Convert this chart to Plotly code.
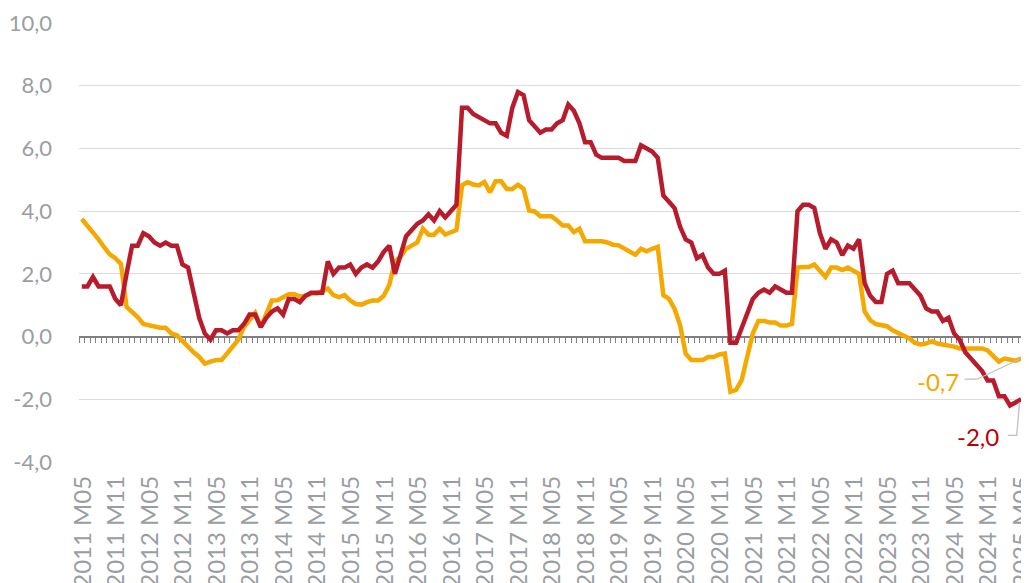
import plotly.graph_objects as go

# ---- data -------------------------------------------------------------
n_months = 169
months = []
yy, mm = 2011, 5
for _ in range(n_months):
    months.append(f"{yy} M{mm:02d}")
    mm += 1
    if mm > 12:
        mm = 1
        yy += 1

red = [
    1.6, 1.6, 1.9, 1.6, 1.6, 1.6, 1.2, 1.0, 2.0, 2.9,
    2.9, 3.3, 3.2, 3.0, 2.9, 3.0, 2.9, 2.9, 2.3, 2.2,
    1.4, 0.6, 0.1, -0.1, 0.2, 0.2, 0.1, 0.2, 0.2, 0.4,
    0.7, 0.7, 0.3, 0.6, 0.8, 0.9, 0.7, 1.2, 1.2, 1.1,
    1.3, 1.4, 1.4, 1.4, 2.4, 2.0, 2.2, 2.2, 2.3, 2.0,
    2.2, 2.3, 2.2, 2.4, 2.7, 2.9, 2.0, 2.6, 3.2, 3.4,
    3.6, 3.7, 3.9, 3.7, 4.0, 3.8, 4.0, 4.2, 7.3, 7.3,
    7.1, 7.0, 6.9, 6.8, 6.8, 6.5, 6.4, 7.3, 7.8, 7.7,
    6.9, 6.7, 6.5, 6.6, 6.6, 6.8, 6.9, 7.4, 7.2, 6.8,
    6.2, 6.2, 5.8, 5.7, 5.7, 5.7, 5.7, 5.6, 5.6, 5.6,
    6.1, 6.0, 5.9, 5.7, 4.5, 4.3, 4.1, 3.5, 3.1, 3.0,
    2.5, 2.6, 2.2, 2.0, 2.0, 2.1, -0.2, -0.2, 0.3, 0.8,
    1.2, 1.4, 1.5, 1.4, 1.6, 1.5, 1.4, 1.4, 4.0, 4.2,
    4.2, 4.1, 3.3, 2.8, 3.1, 3.0, 2.6, 2.9, 2.8, 3.1,
    1.7, 1.3, 1.1, 1.1, 2.0, 2.1, 1.7, 1.7, 1.7, 1.5,
    1.3, 0.9, 0.8, 0.8, 0.5, 0.6, 0.1, -0.1, -0.5, -0.7,
    -0.9, -1.1, -1.4, -1.4, -1.9, -1.9, -2.2, -2.1, -2.0,
]

orange = [
    3.75, 3.55, 3.35, 3.1, 2.85, 2.62, 2.5, 2.32, 0.95, 0.78,
    0.62, 0.4, 0.36, 0.3, 0.28, 0.28, 0.1, 0.04, -0.15, -0.3,
    -0.5, -0.65, -0.86, -0.8, -0.75, -0.75, -0.55, -0.35, -0.1, 0.3,
    0.5, 0.75, 0.3, 0.7, 1.15, 1.16, 1.25, 1.35, 1.35, 1.28,
    1.3, 1.37, 1.37, 1.45, 1.53, 1.32, 1.26, 1.32, 1.15, 1.04,
    1.02, 1.1, 1.15, 1.15, 1.3, 1.65, 2.4, 2.54, 2.8, 2.9,
    3.0, 3.44, 3.25, 3.25, 3.44, 3.25, 3.33, 3.4, 4.82, 4.93,
    4.85, 4.82, 4.93, 4.6, 4.95, 4.95, 4.71, 4.71, 4.84, 4.71,
    4.02, 3.99, 3.84, 3.84, 3.84, 3.7, 3.54, 3.54, 3.33, 3.44,
    3.04, 3.04, 3.04, 3.04, 3.0, 2.93, 2.91, 2.82, 2.72, 2.61,
    2.8, 2.72, 2.8, 2.86, 1.32, 1.2, 0.89, 0.36, -0.55, -0.75,
    -0.75, -0.75, -0.65, -0.65, -0.57, -0.54, -1.76, -1.7, -1.39, -0.65,
    0.1, 0.5, 0.5, 0.45, 0.45, 0.35, 0.35, 0.41, 2.2, 2.22,
    2.22, 2.3, 2.1, 1.9, 2.2, 2.2, 2.12, 2.2, 2.1, 2.0,
    0.8, 0.52, 0.4, 0.36, 0.33, 0.2, 0.12, 0.02, -0.06, -0.2,
    -0.25, -0.22, -0.15, -0.22, -0.25, -0.28, -0.32, -0.38, -0.38, -0.38,
    -0.38, -0.38, -0.44, -0.6, -0.8, -0.7, -0.72, -0.77, -0.7,
]

tick_idx = list(range(0, n_months, 6))
tick_labels = [months[i] for i in tick_idx]
y_ticks = [-4, -2, 0, 2, 4, 6, 8, 10]
y_tick_labels = [f"{v:.1f}".replace(".", ",") for v in y_ticks]

# ---- style ------------------------------------------------------------
RED = "#B81B2C"
RED_TXT = "#C00000"
ORANGE = "#F5A800"
GRAY_TXT = "#9A9EA2"
AXIS = "#808080"
GRID = "#DCDCDC"
LEADER = "#BFBFBF"
FONT = "Lato"

x = list(range(n_months))

fig = go.Figure()
fig.add_trace(go.Scatter(x=x, y=orange, mode="lines", line=dict(color=ORANGE, width=4.5),
                         showlegend=False, hoverinfo="skip"))
fig.add_trace(go.Scatter(x=x, y=red, mode="lines", line=dict(color=RED, width=4.5),
                         showlegend=False, hoverinfo="skip"))
# dummy trace so the zero-line axis with minor ticks exists
fig.add_trace(go.Scatter(x=[None], y=[None], xaxis="x2", showlegend=False, hoverinfo="skip"))

last = n_months - 1
lab_o = f"{orange[-1]:.1f}".replace(".", ",")
lab_r = f"{red[-1]:.1f}".replace(".", ",")

fig.add_annotation(x=last - 14.9, y=orange[-1] - 0.73, xref="x", yref="y", text=lab_o,
                   showarrow=False, font=dict(family=FONT, size=24, color=ORANGE),
                   xanchor="center", yanchor="middle")
fig.add_annotation(x=last - 7.7, y=red[-1] - 1.18, xref="x", yref="y", text=lab_r,
                   showarrow=False, font=dict(family=FONT, size=24, color=RED_TXT),
                   xanchor="center", yanchor="middle")

yo = orange[-1] - 0.66
fig.add_shape(type="path", xref="x", yref="y",
              path=f"M {last-10.1},{yo} L {last-7.9},{yo} L {last-0.3},{orange[-1]-0.02}",
              line=dict(color=LEADER, width=1.3))
yr = red[-1] - 1.15
fig.add_shape(type="path", xref="x", yref="y",
              path=f"M {last-2.4},{yr} L {last-0.8},{yr} L {last-0.3},{red[-1]-0.1}",
              line=dict(color=LEADER, width=1.3))

fig.update_layout(
    width=1029, height=583,
    margin=dict(l=71, r=13, t=15, b=129, autoexpand=False),
    paper_bgcolor="white", plot_bgcolor="white",
    font=dict(family=FONT, color=GRAY_TXT),
    xaxis=dict(
        type="linear", range=[-0.5, n_months - 0.5],
        tickmode="array", tickvals=tick_idx, ticktext=tick_labels,
        tickangle=-90, tickfont=dict(family=FONT, size=24, color=GRAY_TXT),
        showgrid=False, zeroline=False, showline=False, ticks="",
        ticklabelstandoff=8, ticklabelshift=1, ticklabeloverflow="allow",
        automargin=False,
    ),
    xaxis2=dict(
        type="linear", overlaying="x", anchor="free", position=4 / 14,
        range=[-0.5, n_months - 0.5],
        tickmode="linear", tick0=-0.5, dtick=1,
        ticks="outside", ticklen=6, tickwidth=1, tickcolor=AXIS,
        showline=True, linecolor=AXIS, linewidth=1.5,
        showticklabels=False, showgrid=False, zeroline=False,
        layer="below traces", automargin=False,
    ),
    yaxis=dict(
        range=[-4, 10], tickmode="array", tickvals=y_ticks, ticktext=y_tick_labels,
        tickfont=dict(family=FONT, size=22, color=GRAY_TXT),
        showgrid=True, gridcolor=GRID, gridwidth=1.3,
        zeroline=False, showline=False, ticks="",
        ticklabelstandoff=26, automargin=False,
    ),
)

fig.write_html("out.html")
